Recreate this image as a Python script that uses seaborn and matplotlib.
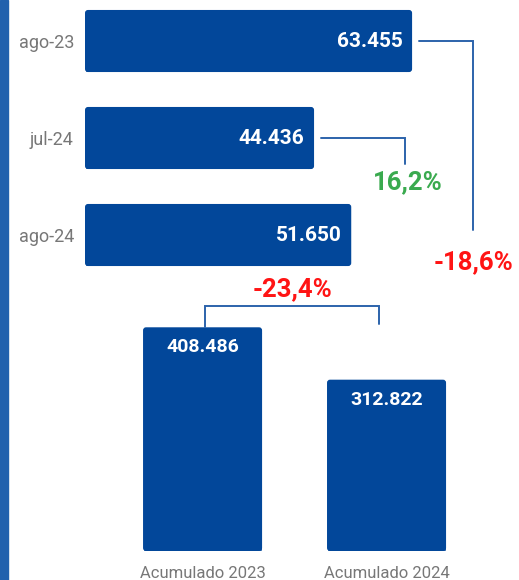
import matplotlib as mpl
mpl.use('Agg')
import matplotlib.pyplot as plt
from matplotlib.patches import Rectangle, FancyBboxPatch
import numpy as np
import pandas as pd
import seaborn as sns

# Monthly values (top panel)
MONTHS = ["ago-23", "jul-24", "ago-24"]
MONTH_VALUES = [63455, 44436, 51650]
MONTH_LABELS = ["63.455", "44.436", "51.650"]

# Year-to-date totals (bottom panel)
ACCUM = ["Acumulado 2023", "Acumulado 2024"]
ACCUM_VALUES = [408486, 312822]
ACCUM_LABELS = ["408.486", "312.822"]

# variations
VAR_YOY = "-18,6%"    # ago-24 vs ago-23
VAR_MOM = "16,2%"     # ago-24 vs jul-24
VAR_ACCUM = "-23,4%"  # 2024 vs 2023

BAR = "#02479a"
LINE = "#2c63ab"
RED = "#ff1414"
GREEN = "#3aaa4f"
GREY = "#777777"

sns.set_theme(style="white")
plt.rcParams['font.family'] = ['Roboto', 'DejaVu Sans']

W, H = 519, 580
fig = plt.figure(figsize=(W / 100, H / 100), dpi=100)
fig.patch.set_facecolor("white")

ax_top = fig.add_axes([85 / W, 0.5, 434 / W, 0.5])
ax_bot = fig.add_axes([85 / W, 29 / H, 434 / W, 251 / H])


def shift(ax, x, y, dx_px=0, dy_px=0):
    # move a data point by some pixels, return data coords
    p = ax.transData.transform((x, y)) + np.array([dx_px, dy_px])
    return ax.transData.inverted().transform(p)


def round_end(ax, horizontal, radius_px=3):
    # round the outer end of each bar, keep the base square
    inv = ax.transData.inverted()
    o = inv.transform((0, 0))
    q = inv.transform((1, 1))
    ux, uy = abs(q[0] - o[0]), abs(q[1] - o[1])  # data units per pixel
    for p in list(ax.patches):
        x, y = p.get_x(), p.get_y()
        w, h = p.get_width(), p.get_height()
        if horizontal:
            r = radius_px * ux
            p.set_width(w - 2 * r)
            aspect = uy / ux
        else:
            r = radius_px * uy
            p.set_height(h - 2 * r)
            aspect = ux / uy
        if horizontal:
            box = FancyBboxPatch((x, y), w, h, boxstyle="round,pad=0,rounding_size=%g" % r,
                                 mutation_aspect=aspect, fc=p.get_facecolor(), ec="none")
        else:
            box = FancyBboxPatch((x, y), w, h,
                                 boxstyle="round,pad=0,rounding_size=%g" % (radius_px * ux),
                                 mutation_aspect=uy / ux, fc=p.get_facecolor(), ec="none")
        ax.add_patch(box)


##########
# TOP
##########
df_m = pd.DataFrame({"mes": MONTHS, "valor": MONTH_VALUES})
sns.barplot(data=df_m, x="valor", y="mes", orient="h", color=BAR,
            saturation=1, width=0.64, ax=ax_top)
ax_top.set_xlim(0, 434 * 194)
ax_top.set_ylim(2.567, -0.4227)
sns.despine(ax=ax_top, left=True, bottom=True)
ax_top.set_xlabel("")
ax_top.set_ylabel("")
ax_top.set_xticks([])
ax_top.tick_params(axis="y", length=0, pad=8, labelsize=13, labelcolor=GREY)
round_end(ax_top, horizontal=True)

for i, (v, lab) in enumerate(zip(MONTH_VALUES, MONTH_LABELS)):
    ax_top.annotate(lab, xy=(v, i), xytext=(-7, 0), textcoords="offset points",
                    ha="right", va="center", color="white", fontsize=15,
                    fontweight="bold")

# ago-23 -> ago-24
v0 = MONTH_VALUES[0]
a = shift(ax_top, v0, 0, 7)
b = shift(ax_top, v0, 0, 61)
ax_top.plot([a[0], b[0], b[0]], [0, 0, 1.95], color=LINE, lw=1.4,
            clip_on=False, solid_joinstyle="miter")
ax_top.text(b[0], 2.28, VAR_YOY, ha="center", va="center", color=RED,
            fontsize=18.5, fontweight="bold", clip_on=False)

# jul-24 -> ago-24
v1 = MONTH_VALUES[1]
a = shift(ax_top, v1, 1, 7)
b = shift(ax_top, v1, 1, 91)
ax_top.plot([a[0], b[0], b[0]], [1, 1, 1.27], color=LINE, lw=1.4,
            clip_on=False, solid_joinstyle="miter")
ax_top.text(b[0] + 3 * 194, 1.46, VAR_MOM, ha="center", va="center", color=GREEN,
            fontsize=18.5, fontweight="bold", clip_on=False)

##########
# BOTTOM
##########
df_a = pd.DataFrame({"periodo": ACCUM, "valor": ACCUM_VALUES})
sns.barplot(data=df_a, x="periodo", y="valor", color=BAR, saturation=1,
            width=0.647, ax=ax_bot)
ax_bot.set_xlim(-0.639, 1.720)
ax_bot.set_ylim(0, 251 * 1826)
sns.despine(ax=ax_bot, left=True, bottom=True)
ax_bot.set_xlabel("")
ax_bot.set_ylabel("")
ax_bot.set_yticks([])
ax_bot.tick_params(axis="x", length=0, pad=10.5, labelsize=12, labelcolor=GREY)
round_end(ax_bot, horizontal=False)

for i, (v, lab) in enumerate(zip(ACCUM_VALUES, ACCUM_LABELS)):
    ax_bot.annotate(lab, xy=(i, v), xytext=(0, -14.5), textcoords="offset points",
                    ha="center", va="center", color="white", fontsize=14,
                    fontweight="bold")

# bracket between accumulated bars
t0 = ACCUM_VALUES[0]
p1 = shift(ax_bot, 0, t0, 2.5, 0)
p2 = shift(ax_bot, 0, t0, 2.5, 21)
p3 = shift(ax_bot, 1, t0, -7.5, 21)
p4 = shift(ax_bot, 1, t0, -7.5, 3)
ax_bot.plot([p1[0], p2[0], p3[0], p4[0]], [p1[1], p2[1], p3[1], p4[1]],
            color=LINE, lw=1.4, clip_on=False, solid_joinstyle="miter")
lab_pos = shift(ax_bot, (p2[0] + p3[0]) / 2, p2[1], 0, 17)
ax_bot.text(lab_pos[0], lab_pos[1], VAR_ACCUM, ha="center", va="center",
            color=RED, fontsize=18.5, fontweight="bold", clip_on=False)

# blue strip on the left edge
fig.add_artist(Rectangle((0, 0), 8 / W, 1, transform=fig.transFigure,
                         color="#2161ad", zorder=10))

fig.savefig("out.png", dpi=100)
